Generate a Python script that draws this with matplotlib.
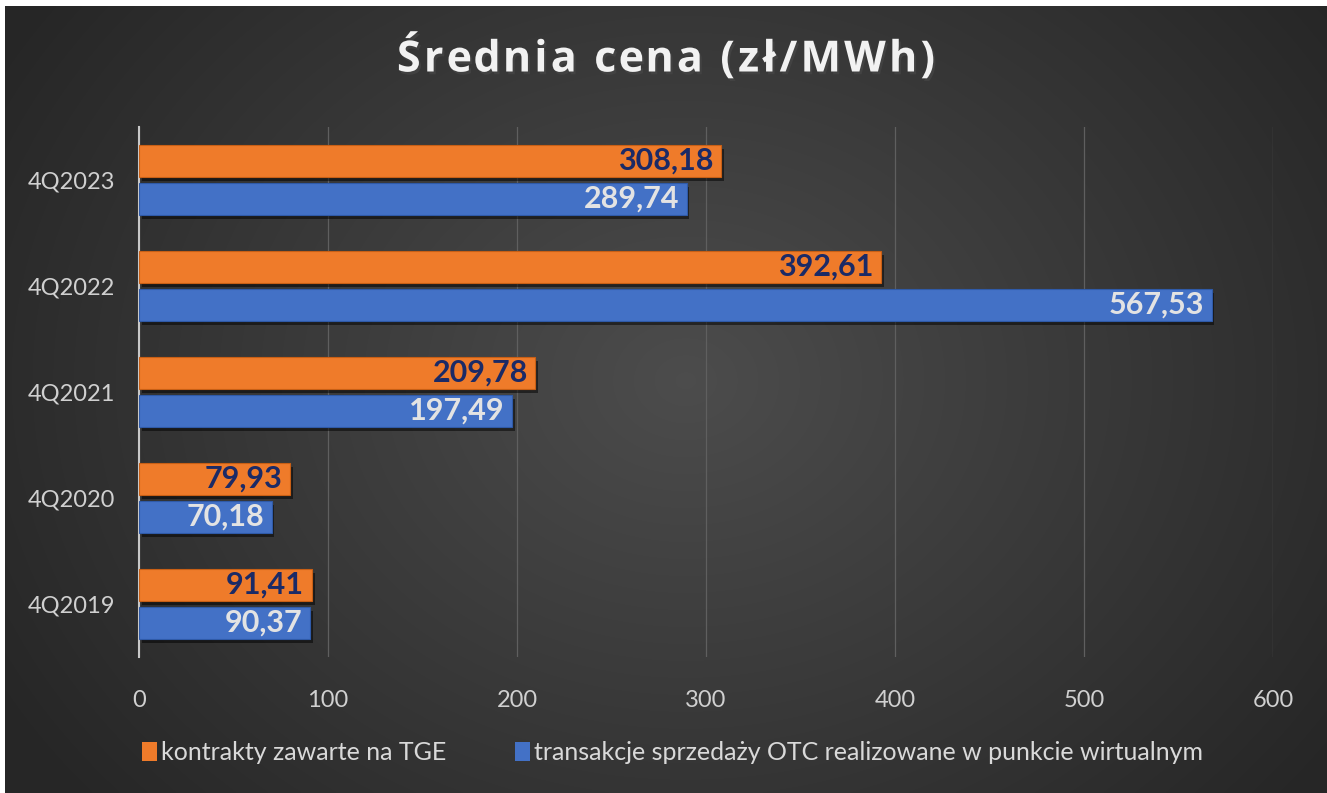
import numpy as np
import matplotlib
matplotlib.use("Agg")
import matplotlib.pyplot as plt
from matplotlib import patheffects as pe
from matplotlib.patches import Patch
from matplotlib.font_manager import FontProperties

# data
quarters = ["4Q2019", "4Q2020", "4Q2021", "4Q2022", "4Q2023"]
tge = [91.41, 79.93, 209.78, 392.61, 308.18]
otc = [90.37, 70.18, 197.49, 567.53, 289.74]
series_names = ["kontrakty zawarte na TGE",
                "transakcje sprzedaży OTC realizowane w punkcie wirtualnym"]
title = "Średnia cena (zł/MWh)"
xticks = [0, 100, 200, 300, 400, 500, 600]

W, H = 1327, 793
fig = plt.figure(figsize=(W / 100, H / 100), dpi=100)
fig.patch.set_facecolor("white")

# dark radial background (leaves a thin white strip at top and left)
bg = fig.add_axes([5 / W, 0, 1 - 5 / W, 1 - 6 / H])
yy, xx = np.mgrid[0:400, 0:700]
cx, cy = 360, 190
r = np.sqrt(((xx - cx) / 420) ** 2 + ((yy - cy) / 330) ** 2)
r = np.clip(r, 0, 1)
shade = 0.30 - 0.15 * r
img = np.dstack([shade, shade, shade])
bg.imshow(img, aspect="auto", extent=[0, 1, 0, 1], interpolation="bicubic")
bg.set_axis_off()

ax = fig.add_axes([139 / W, 136 / H, (1273 - 139) / W, (657 - 127) / H])
ax.set_facecolor("none")

y = np.arange(len(quarters))
h = 0.30
off = 0.18
orange = "#ef7b2a"
blue = "#4371c6"
shadow = [pe.SimplePatchShadow(offset=(2, -3), shadow_rgbFace="black", alpha=0.5), pe.Normal()]

b1 = ax.barh(y + off, tge, height=h, color=orange, edgecolor="#c85f15", linewidth=0.8, zorder=3)
b2 = ax.barh(y - off, otc, height=h, color=blue, edgecolor="#2f5aa8", linewidth=0.8, zorder=3)
for b in list(b1) + list(b2):
    b.set_path_effects(shadow)

def fmt(v):
    return f"{v:.2f}".replace(".", ",")

for yi, v in zip(y, tge):
    ax.text(v - 4, yi + off, fmt(v), ha="right", va="center", fontsize=22,
            fontweight="bold", color="#1b2a66", family="Lato", zorder=4)
for yi, v in zip(y, otc):
    ax.text(v - 4, yi - off, fmt(v), ha="right", va="center", fontsize=22,
            fontweight="bold", color="#e3e3e3", family="Lato", zorder=4)

ax.set_xlim(0, 600)
ax.set_ylim(-0.5, 4.5)
ax.set_xticks(xticks)
ax.set_xticklabels([str(t) for t in xticks])
ax.set_yticks(y)
ax.set_yticklabels(quarters)
ax.tick_params(axis="both", length=0, colors="#d0d0d0", labelsize=17)
ax.tick_params(axis="x", pad=24)
ax.tick_params(axis="y", pad=17)
for lab in ax.get_xticklabels() + ax.get_yticklabels():
    lab.set_family("Lato")
ax.grid(axis="x", color="#5f5f5f", linewidth=0.9, zorder=0)
for s in ["top", "right", "bottom"]:
    ax.spines[s].set_visible(False)
ax.spines["left"].set_color("#c8c8c8")
ax.spines["left"].set_linewidth(1.5)

# title with extra letter spacing: place letters one by one
tprop = FontProperties(family="Open Sans", weight="bold", size=31)
track = 3.2  # px between letters
fig.canvas.draw()
renderer = fig.canvas.get_renderer()
adv = []
for ch in title:
    t = fig.text(0, 0, "x" + ch + "x", fontproperties=tprop)
    tx = fig.text(0, 0, "xx", fontproperties=tprop)
    adv.append(t.get_window_extent(renderer).width - tx.get_window_extent(renderer).width)
    t.remove()
    tx.remove()
total = sum(adv) + track * (len(title) - 1)
xpos = (5 + W) / 2 - total / 2
ty = 1 - 60 / H
for ch, a in zip(title, adv):
    fig.text(xpos / W, ty, ch, ha="left", va="center", fontproperties=tprop,
             color="#f2f2f2",
             path_effects=[pe.withSimplePatchShadow(offset=(1.5, -2), alpha=0.6)])
    xpos += a + track

handles = [Patch(facecolor=orange), Patch(facecolor=blue)]
leg = fig.legend(handles, series_names, loc="center", bbox_to_anchor=(0.5068, 40 / H),
                 ncol=2, frameon=False, handlelength=0.6, handleheight=0.8,
                 handletextpad=0.15, columnspacing=2.75,
                 prop={"family": "Lato", "size": 18})
for t in leg.get_texts():
    t.set_color("#d9d9d9")

fig.savefig("out.png", dpi=100, facecolor=fig.get_facecolor())
